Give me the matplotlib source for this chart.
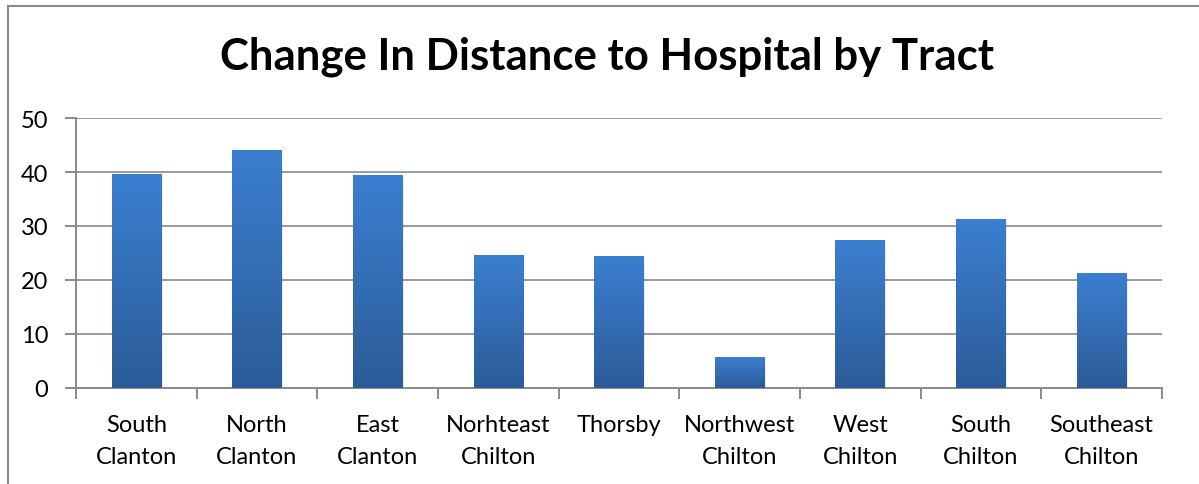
import numpy as np
import matplotlib.pyplot as plt
from matplotlib.colors import LinearSegmentedColormap
from matplotlib.patches import Rectangle
import matplotlib.lines as mlines

tracts = ["South\nClanton", "North\nClanton", "East\nClanton", "Norhteast\nChilton",
          "Thorsby", "Northwest\nChilton", "West\nChilton", "South\nChilton",
          "Southeast\nChilton"]
distance_change = [39.6, 43.9, 39.3, 24.6, 24.4, 5.6, 27.4, 31.3, 21.3]
y_ticks = [0, 10, 20, 30, 40, 50]

plt.rcParams["font.family"] = ["Lato", "DejaVu Sans"]

fig = plt.figure(figsize=(11.99, 4.85), dpi=100)
ax = fig.add_axes([0.0634, 0.198, 0.9056, 0.5566])

x = np.arange(len(tracts))
width = 0.41
bars = ax.bar(x, distance_change, width=width, color="none", zorder=3)

grad = LinearSegmentedColormap.from_list("bar", ["#2c5c98", "#3b7fd0"])
g = np.linspace(0, 1, 256).reshape(-1, 1)
for b in bars:
    x0, h = b.get_x(), b.get_height()
    # soft shadow
    ax.add_patch(Rectangle((x0 + 0.012, -0.3), width, h, color="#000000",
                           alpha=0.07, zorder=2.5, lw=0))
    ax.imshow(g, cmap=grad, origin="lower", aspect="auto",
              extent=(x0, x0 + width, 0, h), zorder=3)

ax.set_xlim(-0.5, len(tracts) - 0.5)
ax.set_ylim(0, 50)
ax.set_yticks(y_ticks)
ax.yaxis.grid(True, color="#9a9a9a", lw=1.4, zorder=0)
ax.set_axisbelow(True)

ax.set_xticks(np.arange(-0.5, len(tracts)), labels=[""] * (len(tracts) + 1))
ax.set_xticks(x, labels=tracts, minor=True)
ax.tick_params(axis="x", which="major", length=8, width=1.4, color="#8a8a8a")
ax.tick_params(axis="x", which="minor", length=0, pad=18.5, labelsize=17)
for t in ax.get_xticklabels(minor=True):
    t.set_linespacing(1.65)
ax.tick_params(axis="y", length=8, width=1.4, color="#8a8a8a", labelsize=17, pad=12)

for s in ["top", "right"]:
    ax.spines[s].set_visible(False)
for s in ["left", "bottom"]:
    ax.spines[s].set_color("#8a8a8a")
    ax.spines[s].set_linewidth(1.4)

fig.text(0.506, 0.882, "Change In Distance to Hospital by Tract", ha="center",
         va="center", fontsize=31.5, fontweight="bold")

# chart border (left and top visible in crop)
fig.add_artist(mlines.Line2D([0.0063, 0.0063], [0, 0.985], color="#8a8a8a", lw=1.5))
fig.add_artist(mlines.Line2D([0.0063, 1], [0.985, 0.985], color="#8a8a8a", lw=1.5))

fig.savefig("out.png", dpi=100)
